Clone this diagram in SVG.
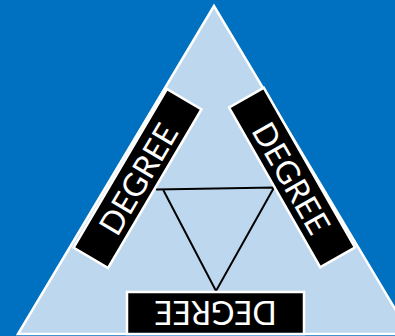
<svg xmlns="http://www.w3.org/2000/svg" width="395" height="336" viewBox="0 0 395 336">
<style>
.box{fill:#000;stroke:#fff;stroke-width:2.5}
.lbl{fill:#fff;font-family:Lato,"Open Sans",sans-serif;font-size:32px;text-anchor:middle;dominant-baseline:central}
</style>
<rect width="395" height="336" fill="#0070C0"/>
<polygon points="214,6 18,334 410,334" fill="#BDD7EE" stroke="#fff" stroke-width="2.5"/>
<g id="connectors">
<polyline points="156,189.5 274,187.5 216,291 163,189.5" fill="none" stroke="#000" stroke-width="2"/>
</g>
<g id="left" transform="translate(137.5,178.5) rotate(-59.5)">
<rect class="box" x="-92" y="-20" width="184" height="40"/>
<text class="lbl" x="0" y="0">DEGREE</text>
</g>
<g id="right" transform="translate(292,177.5) rotate(60.3)">
<rect class="box" x="-92" y="-20" width="184" height="40"/>
<text class="lbl" x="0" y="0">DEGREE</text>
</g>
<g id="bottom" transform="translate(215.5,313) rotate(180)">
<rect class="box" x="-88.5" y="-21" width="177" height="42"/>
<text class="lbl" x="0" y="0">DEGREE</text>
</g>
</svg>
